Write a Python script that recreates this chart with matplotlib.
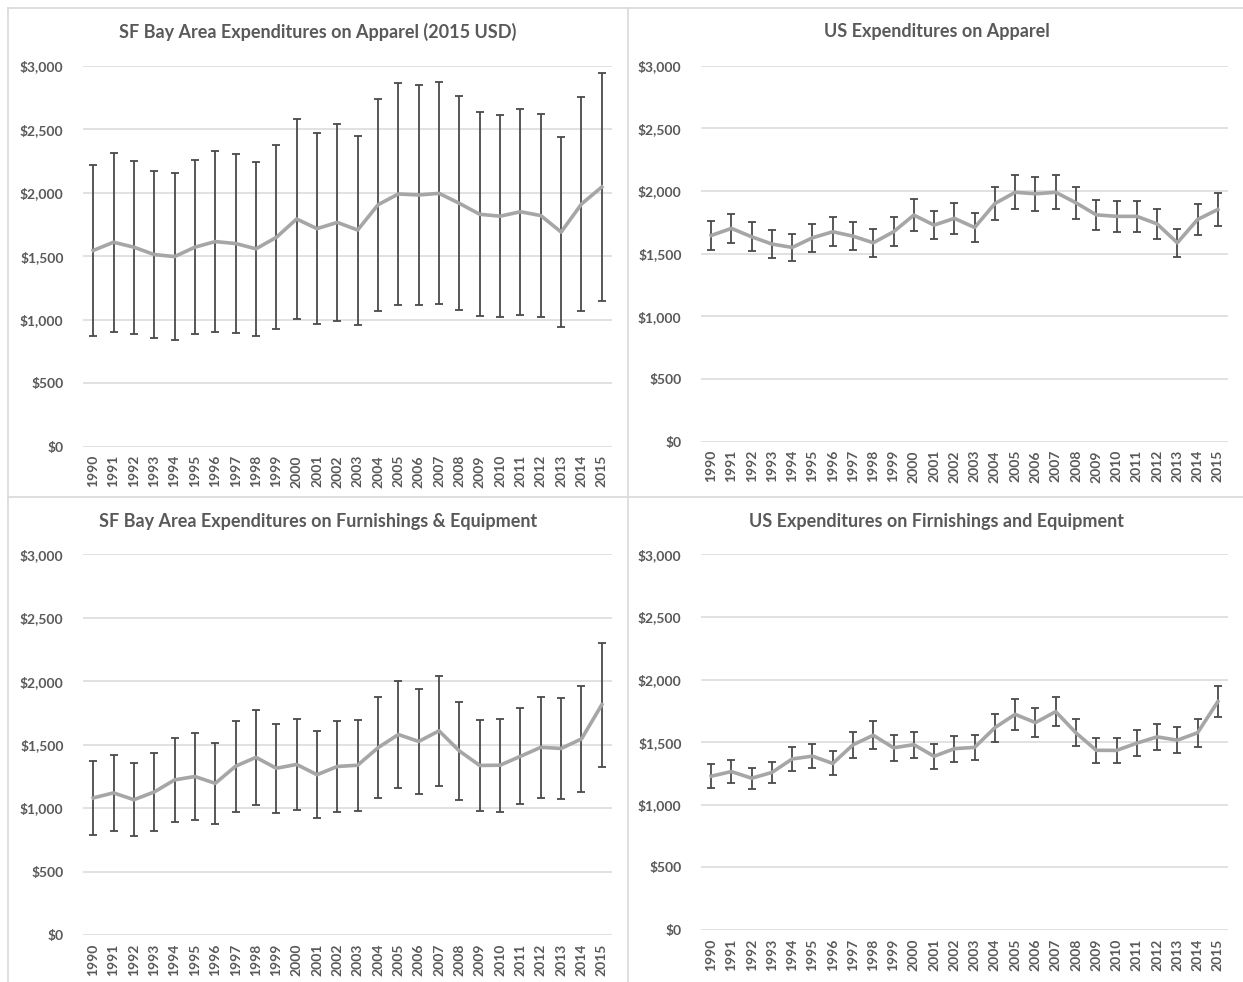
import matplotlib
matplotlib.use("Agg")
import matplotlib.pyplot as plt
from matplotlib.lines import Line2D
from matplotlib.ticker import FuncFormatter

years = [str(y) for y in range(1990, 2016)]

# SF Bay Area, apparel (mean and half-width of the error bar)
sf_apparel = [1545, 1610, 1571, 1513, 1497, 1571, 1615, 1600, 1558, 1648,
              1793, 1717, 1766, 1706, 1905, 1990, 1982, 1995, 1916, 1830,
              1815, 1850, 1820, 1690, 1911, 2045]
sf_apparel_err = [674, 705, 680, 661, 656, 686, 711, 705, 686, 725,
                  790, 750, 775, 744, 835, 872, 865, 873, 842, 802,
                  796, 810, 797, 745, 842, 898]

# US, apparel
us_apparel = [1645, 1702, 1635, 1577, 1550, 1627, 1675, 1640, 1587, 1675,
              1808, 1728, 1782, 1709, 1900, 1990, 1978, 1990, 1906, 1810,
              1798, 1798, 1738, 1587, 1773, 1853]
us_apparel_err = [118, 117, 117, 111, 111, 110, 117, 112, 110, 117,
                  125, 113, 123, 116, 135, 136, 135, 136, 130, 122,
                  121, 121, 121, 110, 122, 130]

# SF Bay Area, furnishings & equipment
sf_furnish = [1080, 1120, 1066, 1127, 1222, 1249, 1195, 1330, 1400, 1314,
              1344, 1263, 1328, 1338, 1476, 1580, 1525, 1609, 1450, 1336,
              1338, 1408, 1479, 1470, 1545, 1815]
sf_furnish_err = [295, 300, 288, 308, 328, 340, 321, 360, 372, 352,
                  360, 341, 359, 360, 400, 425, 412, 432, 387, 360,
                  367, 379, 400, 400, 418, 489]

# US, furnishings & equipment
us_furnish = [1228, 1265, 1212, 1258, 1366, 1388, 1330, 1479, 1555, 1455,
              1480, 1387, 1448, 1458, 1616, 1722, 1656, 1744, 1574, 1435,
              1434, 1492, 1542, 1516, 1575, 1824]
us_furnish_err = [96, 89, 84, 83, 98, 96, 96, 104, 111, 105,
                  104, 100, 105, 99, 111, 121, 113, 114, 107, 98,
                  98, 105, 104, 106, 111, 123]

titles = ["SF Bay Area Expenditures on Apparel (2015 USD)",
          "US Expenditures on Apparel",
          "SF Bay Area Expenditures on Furnishings & Equipment",
          "US Expenditures on Firnishings and Equipment"]

y_ticks = [0, 500, 1000, 1500, 2000, 2500, 3000]

W, H = 1243, 982
TEXT = "#595959"
GRID = "#d9d9d9"
LINE = "#a6a6a6"
BAR = "#4a4a4a"
FONT = ["Lato", "DejaVu Sans"]

fig = plt.figure(figsize=(W / 100, H / 100), dpi=100)
fig.patch.set_facecolor("white")


def px_rect(x0, x1, ytop, ybot):
    return [x0 / W, 1 - ybot / H, (x1 - x0) / W, (ybot - ytop) / H]


panels = [
    (px_rect(83, 612, 65.7, 446.7), sf_apparel, sf_apparel_err, titles[0], (318, 32)),
    (px_rect(701, 1228, 65.7, 441.7), us_apparel, us_apparel_err, titles[1], (937, 32)),
    (px_rect(83, 612, 554.3, 935), sf_furnish, sf_furnish_err, titles[2], (318, 522)),
    (px_rect(701, 1228, 554.3, 930), us_furnish, us_furnish_err, titles[3], (937, 522)),
]

money = FuncFormatter(lambda v, _: "${:,.0f}".format(v))

for rect, vals, errs, title, (tx, ty) in panels:
    ax = fig.add_axes(rect)
    x = list(range(len(years)))
    ax.errorbar(x, vals, yerr=errs, fmt="none", ecolor=BAR, elinewidth=1.3,
                capsize=3, capthick=1.3, zorder=2)
    ax.plot(x, vals, color=LINE, lw=2.6, solid_joinstyle="round", zorder=3)
    ax.set_xlim(-0.5, len(years) - 0.5)
    ax.set_ylim(0, 3000)
    ax.set_yticks(y_ticks)
    ax.yaxis.set_major_formatter(money)
    ax.set_xticks(x)
    ax.set_xticklabels(years, rotation=90)
    ax.grid(axis="y", color=GRID, lw=1.1)
    ax.set_axisbelow(True)
    for s in ax.spines.values():
        s.set_visible(False)
    ax.tick_params(length=0, colors=TEXT, labelsize=10)
    ax.tick_params(axis="y", pad=14)
    ax.tick_params(axis="x", pad=6)
    for lab in ax.get_xticklabels() + ax.get_yticklabels():
        lab.set_fontfamily(FONT)
        lab.set_fontweight("bold")
    fig.text(tx / W, 1 - ty / H, title, ha="center", va="center",
             fontsize=13, fontweight="bold", color=TEXT, family=FONT)

# panel frames
frame_kw = dict(color=GRID, lw=1.2, transform=fig.transFigure)
for x0, y0, x1, y1 in [(8, 8, 8, H), (627.5, 8, 627.5, H),
                       (8, 8, W, 8), (8, 496.5, W, 496.5)]:
    fig.add_artist(Line2D([x0 / W, x1 / W], [1 - y0 / H, 1 - y1 / H], **frame_kw))

fig.savefig("out.png", dpi=100, facecolor="white")
